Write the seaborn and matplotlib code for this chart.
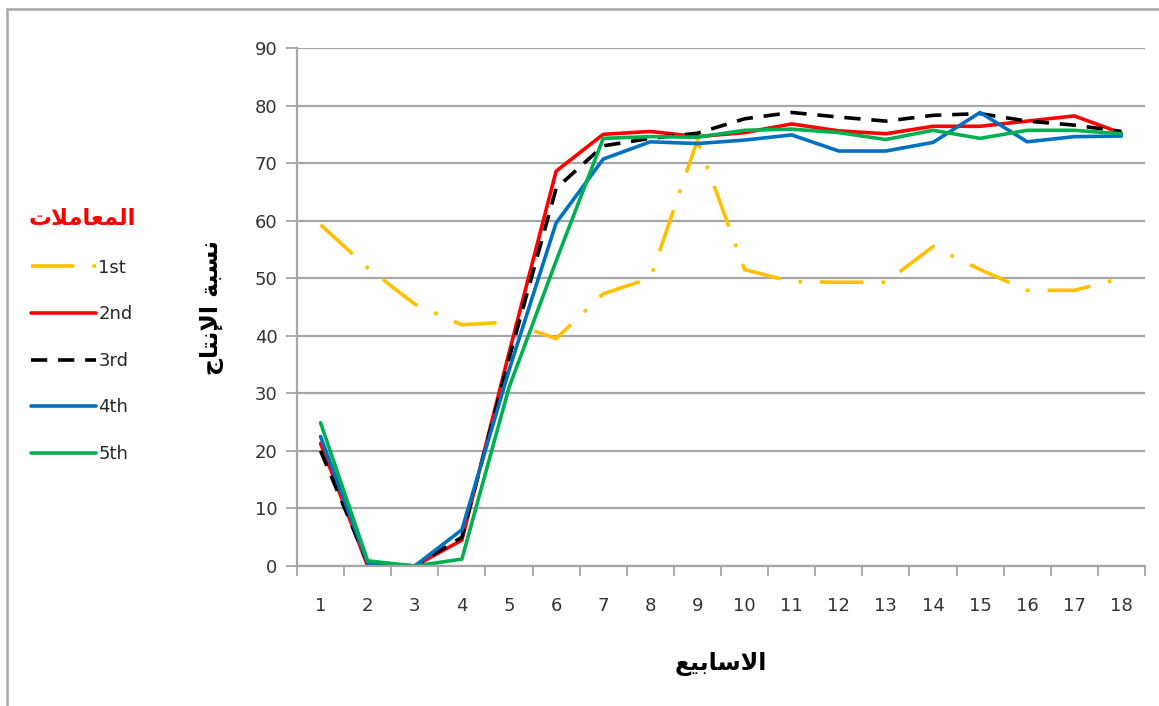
import numpy as np
import pandas as pd
import matplotlib
matplotlib.use("Agg")
import matplotlib.pyplot as plt
from matplotlib.patches import Rectangle
from matplotlib.ticker import FixedLocator, NullFormatter, FixedFormatter
import seaborn as sns

# ---------------- data ----------------
weeks = list(range(1, 19))
series_names = ["1st", "2nd", "3rd", "4th", "5th"]
s1 = [59.3, 51.8, 45.5, 41.9, 42.4, 39.5, 47.3, 50.0, 74.0, 51.5, 49.4, 49.3, 49.3, 55.5, 51.5, 47.9, 47.9, 50.0]
s2 = [21.3, 0.0, 0.0, 4.5, 37.0, 68.6, 75.0, 75.5, 74.6, 75.3, 76.8, 75.6, 75.1, 76.4, 76.4, 77.3, 78.2, 75.2]
s3 = [20.0, 0.5, 0.0, 5.0, 36.0, 65.6, 73.0, 74.3, 75.2, 77.7, 78.8, 78.0, 77.3, 78.3, 78.6, 77.3, 76.6, 75.5]
s4 = [22.5, 0.5, 0.0, 6.3, 34.0, 59.6, 70.7, 73.7, 73.4, 74.0, 74.9, 72.1, 72.1, 73.6, 78.8, 73.7, 74.6, 74.7]
s5 = [24.9, 0.9, 0.0, 1.2, 31.0, 53.0, 74.3, 74.6, 74.5, 75.7, 75.9, 75.3, 74.1, 75.7, 74.3, 75.7, 75.7, 75.1]
y_ticks = [0, 10, 20, 30, 40, 50, 60, 70, 80, 90]

# Arabic text (presentation forms, visual order)
legend_title = "\uFE95\uFEFC\uFEE3\uFE8E\uFECC\uFEE4\uFEDF\uFE8D"          # المعاملات
x_label = "\uFECA\uFEF4\uFE91\uFE8E\uFEB3\uFEFB\uFE8D"                      # الاسابيع
y_label = "\uFE9D\uFE8E\uFE98\uFEE7\uFEF9\uFE8D \uFE94\uFE92\uFEB4\uFEE7"  # نسبة الإنتاج

colors = {"1st": "#FFC000", "2nd": "#FF0000", "3rd": "#000000", "4th": "#0070C0", "5th": "#00B050"}
dashes = {"1st": (12, 5, 1, 5), "2nd": "", "3rd": (4.5, 3), "4th": "", "5th": ""}

rows = []
for name, vals in zip(series_names, [s1, s2, s3, s4, s5]):
    for w, v in zip(weeks, vals):
        rows.append({"week": w, "value": v, "series": name})
df = pd.DataFrame(rows)

# ---------------- figure ----------------
sns.set_theme(style="white")
plt.rcParams["font.family"] = ["DejaVu Sans"]

W, H = 1159, 706
fig = plt.figure(figsize=(W / 100, H / 100), dpi=100)
ax = fig.add_axes([297 / W, 1 - 566 / H, (1145 - 297) / W, (566 - 48) / H])

sns.lineplot(data=df, x="week", y="value", hue="series", style="series",
             palette=colors, dashes=dashes, linewidth=2.6, ax=ax,
             hue_order=series_names, style_order=series_names, legend=True)

ax.set_xlim(0.5, 18.5)
ax.set_ylim(0, 90)

gridc = "#a6a6a6"
ax.yaxis.set_major_locator(FixedLocator(y_ticks))
ax.grid(axis="y", color=gridc, linewidth=1.6)
ax.grid(axis="x", visible=False)
ax.set_axisbelow(True)

# x: ticks at category boundaries, labels centered
ax.xaxis.set_major_locator(FixedLocator(np.arange(0.5, 19, 1)))
ax.xaxis.set_major_formatter(NullFormatter())
ax.xaxis.set_minor_locator(FixedLocator(weeks))
ax.xaxis.set_minor_formatter(FixedFormatter([str(w) for w in weeks]))
ax.tick_params(axis="x", which="major", length=7, width=1.3, color=gridc, direction="out")
ax.tick_params(axis="x", which="minor", length=0, pad=22, labelsize=13, labelcolor="#333333")
ax.tick_params(axis="y", which="major", length=8, width=1.3, color=gridc, direction="out",
               pad=6, labelsize=13, labelcolor="#333333")
ax.tick_params(left=True, bottom=True)

for side in ["top", "right"]:
    ax.spines[side].set_visible(False)
for side in ["left", "bottom"]:
    ax.spines[side].set_color(gridc)
    ax.spines[side].set_linewidth(1.6)

ax.set_xlabel(x_label, fontsize=17, fontweight="bold", color="#000000", labelpad=27)
ax.set_ylabel(y_label, fontsize=17, fontweight="bold", color="#000000", labelpad=22)

# legend
handles, labels = ax.get_legend_handles_labels()
leg = ax.legend(handles, labels, loc="upper left", bbox_to_anchor=(12 / W, 1 - 191 / H),
                bbox_transform=fig.transFigure, frameon=False, fontsize=13,
                handlelength=3.55, handletextpad=0.15, labelspacing=1.58,
                title=legend_title, title_fontsize=16.5)
leg.get_title().set_color("#FF0000")
leg.get_title().set_fontweight("bold")
leg._legend_box.align = "center"
for line in leg.get_lines():
    line.set_linewidth(2.6)

# outer chart frame (Excel-like)
fig.add_artist(Rectangle((7 / W, -0.5), 2.0, 0.5 + 1 - 9 / H, transform=fig.transFigure,
                         fill=False, edgecolor="#a6a6a6", linewidth=1.8))

fig.savefig("out.png", dpi=100)
